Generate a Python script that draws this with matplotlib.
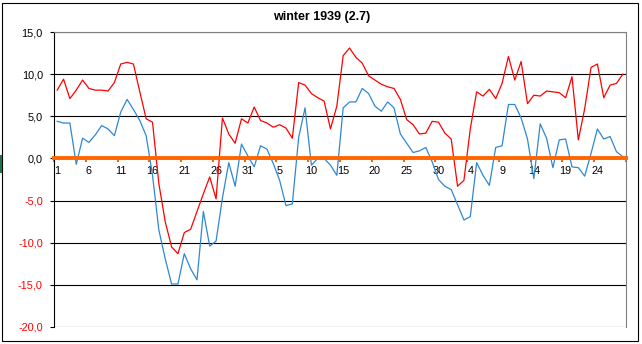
import numpy as np
import matplotlib
matplotlib.use("Agg")
import matplotlib.pyplot as plt
from matplotlib.patches import Rectangle

plt.rcParams["font.family"] = ["Liberation Sans", "DejaVu Sans"]

title = "winter 1939 (2.7)"

# daily max / min, 1 Dec 1938 .. 28 Feb 1939
t_max = [8.1, 9.4, 7.1, 8.1, 9.3, 8.3, 8.1, 8.1, 8.0, 9.0,
         11.2, 11.4, 11.2, 7.9, 4.7, 4.3, -3.0, -7.5, -10.5, -11.3,
         -8.8, -8.4, -6.3, -4.2, -2.2, -4.8, 4.8, 2.9, 1.8, 4.7,
         4.2, 6.1, 4.5, 4.2, 3.7, 4.0, 3.6, 2.4, 9.0, 8.7,
         7.7, 7.2, 6.8, 3.5, 6.2, 12.2, 13.1, 12.0, 11.3, 9.8,
         9.3, 8.8, 8.5, 8.3, 7.0, 4.6, 4.0, 2.9, 3.0, 4.4,
         4.3, 3.0, 2.3, -3.3, -2.6, 3.5, 7.9, 7.4, 8.2, 7.1,
         8.9, 12.1, 9.3, 11.5, 6.5, 7.5, 7.4, 8.0, 7.9, 7.8,
         7.2, 9.7, 2.2, 5.9, 10.8, 11.2, 7.2, 8.7, 8.9, 10.0]
t_min = [4.4, 4.2, 4.2, -0.7, 2.4, 1.9, 2.8, 3.9, 3.5, 2.7,
         5.5, 7.0, 5.8, 4.5, 2.7, -2.0, -8.5, -11.9, -14.9, -14.9,
         -11.3, -13.1, -14.4, -6.3, -10.4, -9.8, -4.7, -0.5, -3.3, 1.7,
         0.3, -1.0, 1.5, 1.1, -0.6, -2.6, -5.6, -5.4, 2.5, 6.0,
         -0.8, 0.0, 0.0, -0.8, -2.0, 6.0, 6.7, 6.7, 8.3, 7.7,
         6.2, 5.6, 6.7, 6.0, 2.9, 1.8, 0.7, 0.9, 1.3, -0.4,
         -2.5, -3.3, -3.7, -5.5, -7.3, -6.9, -0.5, -2.0, -3.2, 1.3,
         1.5, 6.4, 6.4, 4.8, 2.3, -2.4, 4.1, 2.4, -1.1, 2.2,
         2.3, -1.0, -1.1, -2.1, 0.6, 3.5, 2.3, 2.6, 0.8, 0.2]

day_labels = ["1", "6", "11", "16", "21", "26", "31", "5", "10", "15",
              "20", "25", "30", "4", "9", "14", "19", "24"]
y_ticks = [15, 10, 5, 0, -5, -10, -15, -20]
y_labels = ["15,0", "10,0", "5,0", "0,0", "-5,0", "-10,0", "-15,0", "-20,0"]

W, H = 642, 344
fig = plt.figure(figsize=(W / 100, H / 100), dpi=100)

# chart frame + excel cell marker
fig.patches.append(Rectangle((2 / W, 3 / H), 636 / W, 338 / H, transform=fig.transFigure,
                             fill=False, edgecolor="black", linewidth=0.8))
fig.patches.append(Rectangle((0, 171 / H), 2 / W, 18 / H, transform=fig.transFigure,
                             color="#217346", linewidth=0))

ax = fig.add_axes([54 / W, 17 / H, 572 / W, 295 / H])
n = len(t_max)
x = np.arange(n)
ax.plot(x, t_min, color="#2E88D4", linewidth=0.9)
ax.plot(x, t_max, color="#FF0000", linewidth=0.9)

ax.set_xlim(-0.5, n - 0.5)
ax.set_ylim(-20, 15)
ax.set_yticks(y_ticks)
ax.set_yticklabels(y_labels)
for lab, v in zip(ax.get_yticklabels(), y_ticks):
    lab.set_color("#FF0000" if v < 0 else "black")
ax.yaxis.grid(True, color="black", linewidth=0.8)
ax.set_axisbelow(True)
ax.tick_params(axis="y", length=3, width=0.8, color="black", labelsize=7.8, pad=5)

# horizontal axis drawn at 0 in orange
ax.spines["bottom"].set_position(("data", 0))
ax.spines["bottom"].set_color("#FF6600")
ax.spines["bottom"].set_linewidth(2.8)
ax.spines["left"].set_color("black")
ax.spines["left"].set_linewidth(0.8)
for side in ["top", "right"]:
    ax.spines[side].set_color("#808080")
    ax.spines[side].set_linewidth(0.8)

ax.set_xticks(np.arange(-0.5, n, 5))
ax.set_xticklabels([])
ax.tick_params(axis="x", which="major", length=2.6, width=1.5, color="#FF6600")
ax.set_xticks(np.arange(0, n, 5), minor=True)
ax.set_xticklabels(day_labels, minor=True)
ax.tick_params(axis="x", which="minor", length=0, labelsize=7.8, pad=5.5)

fig.text(0.501, 1 - 17 / H, title, ha="center", va="center", fontsize=9, fontweight="bold")

fig.savefig("out.png", dpi=100)
